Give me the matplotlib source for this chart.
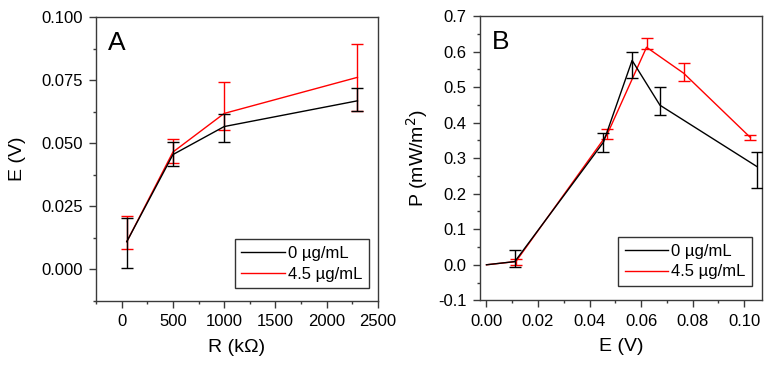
import numpy as np
import matplotlib
matplotlib.use('Agg')
import matplotlib.pyplot as plt
from matplotlib.ticker import MultipleLocator

plt.rcParams['font.family'] = ['Liberation Sans', 'DejaVu Sans']

# Panel A data: E vs R
R = [50, 500, 1000, 2300]
E_0 = [0.011, 0.0455, 0.0566, 0.0668]
E_0_lo = [0.0105, 0.0045, 0.0063, 0.0040]
E_0_hi = [0.0095, 0.0050, 0.0050, 0.0052]
E_45 = [0.011, 0.0465, 0.0618, 0.0761]
E_45_lo = [0.0030, 0.0042, 0.0065, 0.0132]
E_45_hi = [0.0100, 0.0052, 0.0123, 0.0132]

# Panel B data: P vs E
Ex_0 = [0.0, 0.011, 0.0454, 0.0565, 0.0673, 0.105]
P_0 = [0.0, 0.009, 0.345, 0.575, 0.449, 0.276]
P_0_lo = [0.0, 0.014, 0.029, 0.049, 0.028, 0.060]
P_0_hi = [0.0, 0.033, 0.025, 0.025, 0.051, 0.040]
Ex_45 = [0.0, 0.0114, 0.0469, 0.0621, 0.0765, 0.1024]
P_45 = [0.0, 0.009, 0.368, 0.612, 0.539, 0.358]
P_45_lo = [0.0, 0.009, 0.013, 0.006, 0.021, 0.007]
P_45_hi = [0.0, 0.008, 0.015, 0.027, 0.028, 0.006]

labels = ['0 µg/mL', '4.5 µg/mL']
spine_col = '#3a3a3a'

fig = plt.figure(figsize=(7.72, 3.72), dpi=100)
axA = fig.add_axes([0.1244, 0.1909, 0.3652, 0.7634])
axB = fig.add_axes([0.6218, 0.1927, 0.3656, 0.7643])


def style(ax):
    for s in ax.spines.values():
        s.set_color(spine_col)
        s.set_linewidth(1.0)
    ax.tick_params(which='both', direction='out', colors=spine_col,
                   labelcolor='black', labelsize=12, top=False, right=False)
    ax.tick_params(which='major', length=5, width=1.0, pad=4.5)
    ax.tick_params(which='minor', length=2.5, width=1.0)


def series(ax, x, y, lo, hi, color, label, z, skip_first=False):
    ax.plot(x, y, color=color, lw=1.0, label=label, zorder=z)
    s = 1 if skip_first else 0
    ax.errorbar(x[s:], y[s:], yerr=[lo[s:], hi[s:]], fmt='none', ecolor=color,
                elinewidth=1.0, capsize=4.5, capthick=1.0, zorder=z)


# Panel A
series(axA, R, E_45, E_45_lo, E_45_hi, 'red', labels[1], 2)
series(axA, R, E_0, E_0_lo, E_0_hi, 'black', labels[0], 3)
axA.set_xlim(-250, 2500)
axA.set_ylim(-0.0125, 0.100)
axA.xaxis.set_major_locator(MultipleLocator(500))
axA.xaxis.set_minor_locator(MultipleLocator(250))
axA.yaxis.set_major_locator(MultipleLocator(0.025))
axA.yaxis.set_minor_locator(MultipleLocator(0.0125))
axA.yaxis.set_major_formatter(plt.FormatStrFormatter('%.3f'))
axA.set_xlabel('R (kΩ)', fontsize=14, labelpad=7)
axA.set_ylabel('E (V)', fontsize=14, labelpad=11)
axA.text(0.043, 0.95, 'A', transform=axA.transAxes, fontsize=19,
         va='top', ha='left')
style(axA)

# Panel B
series(axB, Ex_45, P_45, P_45_lo, P_45_hi, 'red', labels[1], 2, skip_first=True)
series(axB, Ex_0, P_0, P_0_lo, P_0_hi, 'black', labels[0], 3, skip_first=True)
axB.set_xlim(-0.0025, 0.107)
axB.set_ylim(-0.1, 0.7)
axB.xaxis.set_major_locator(MultipleLocator(0.02))
axB.xaxis.set_minor_locator(MultipleLocator(0.01))
axB.yaxis.set_major_locator(MultipleLocator(0.1))
axB.yaxis.set_minor_locator(MultipleLocator(0.05))
axB.xaxis.set_major_formatter(plt.FormatStrFormatter('%.2f'))
axB.yaxis.set_major_formatter(plt.FormatStrFormatter('%.1f'))
axB.set_xlabel('E (V)', fontsize=14, labelpad=7)
axB.set_ylabel('P (mW/m$^2$)', fontsize=14, labelpad=6)
axB.text(0.043, 0.95, 'B', transform=axB.transAxes, fontsize=19,
         va='top', ha='left')
style(axB)

for ax, anchor in ((axA, (0.968, 0.045)), (axB, (0.965, 0.05))):
    h, l = ax.get_legend_handles_labels()
    order = [l.index(labels[0]), l.index(labels[1])]
    leg = ax.legend([h[i] for i in order], [l[i] for i in order],
                    loc='lower right', bbox_to_anchor=anchor, fontsize=12,
                    fancybox=False, framealpha=1, edgecolor='#333333',
                    borderaxespad=0, handlelength=2.6, handletextpad=0.2,
                    borderpad=0.4, labelspacing=0.35)
    leg.get_frame().set_linewidth(1.0)

fig.savefig('out.png', dpi=100)
